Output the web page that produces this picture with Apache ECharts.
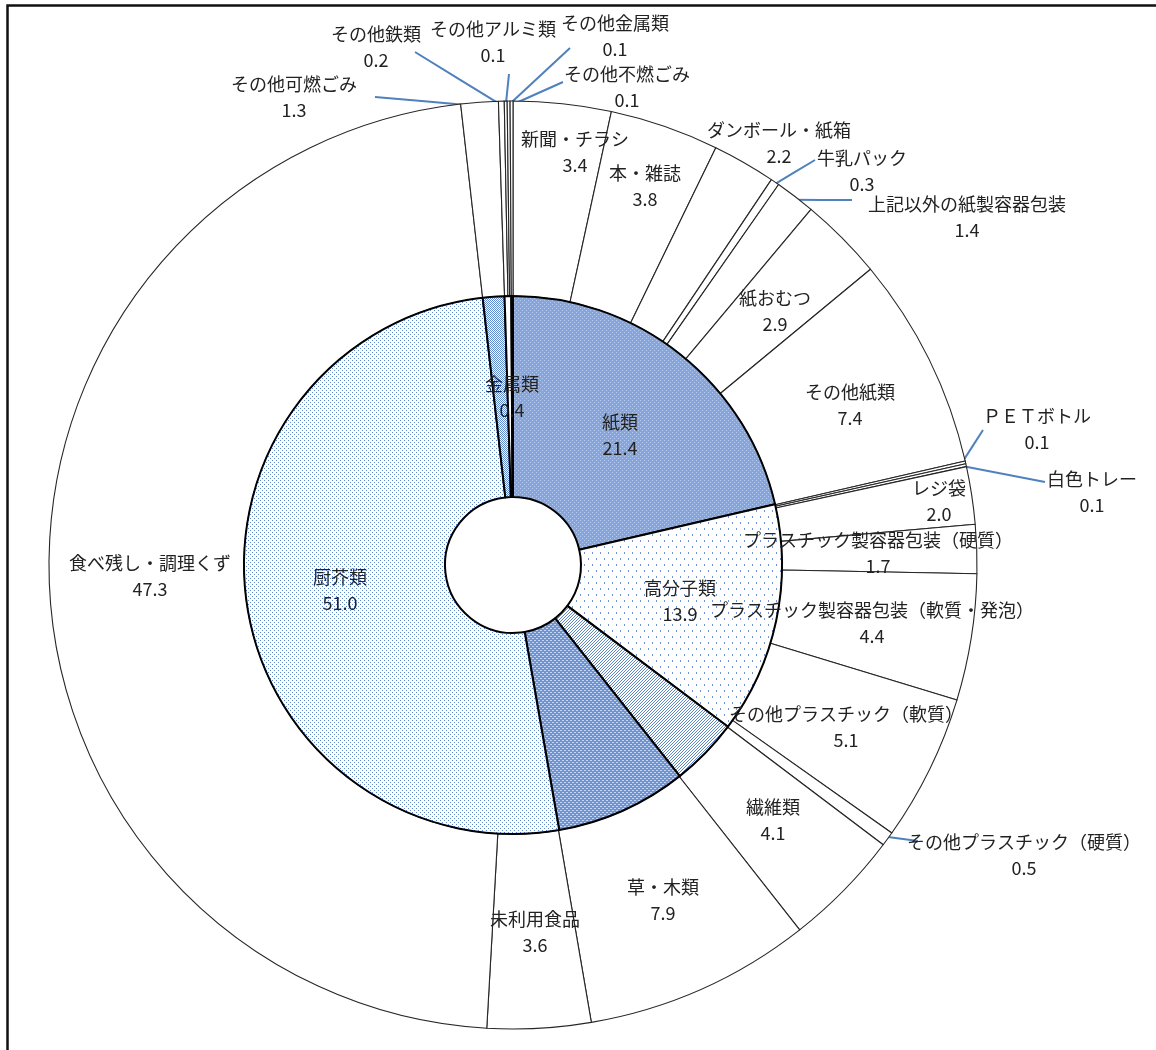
<!DOCTYPE html>
<html>
<head>
<meta charset="utf-8">
<script src="https://cdn.jsdelivr.net/npm/echarts@6/dist/echarts.min.js"></script>
<style>
  html, body { margin: 0; padding: 0; background: #fff; overflow: hidden; }
  #chart { width: 1156px; height: 1050px; }
</style>
</head>
<body>
<div id="chart"></div>
<script>
// Waste composition (%): major groups on the inner ring, detailed items on the outer ring
const groupNames = ['紙類', '高分子類', '繊維類', '草・木類', '厨芥類', 'その他可燃ごみ', '金属類', 'その他不燃ごみ'];
const groupValues = [21.4, 13.9, 4.1, 7.9, 51.0, 1.3, 0.4, 0.1];

const itemNames = [
  '新聞・チラシ', '本・雑誌', 'ダンボール・紙箱', '牛乳パック', '上記以外の紙製容器包装', '紙おむつ', 'その他紙類',
  'ＰＥＴボトル', '白色トレー', 'レジ袋', 'プラスチック製容器包装（硬質）', 'プラスチック製容器包装（軟質・発泡）',
  'その他プラスチック（軟質）', 'その他プラスチック（硬質）',
  '繊維類', '草・木類', '未利用食品', '食べ残し・調理くず', 'その他可燃ごみ',
  'その他鉄類', 'その他アルミ類', 'その他金属類', 'その他不燃ごみ'
];
const itemValues = [
  3.4, 3.8, 2.2, 0.3, 1.4, 2.9, 7.4,
  0.1, 0.1, 2.0, 1.7, 4.4,
  5.1, 0.5,
  4.1, 7.9, 3.6, 47.3, 1.3,
  0.2, 0.1, 0.1, 0.1
];

// Groups that carry a label on the inner ring
const labeledGroups = ['紙類', '高分子類', '厨芥類', '金属類'];

// ---- layout ----
const CX = 513, CY = 565;
const HOLE = 68, MID = 269, OUTER = 464;

// Label centres, relative to the pie centre
const outerSpots = {
  '新聞・チラシ': [62, -413], '本・雑誌': [132, -379], 'ダンボール・紙箱': [266, -422],
  '牛乳パック': [349, -394], '上記以外の紙製容器包装': [454, -348], '紙おむつ': [262, -254],
  'その他紙類': [337, -160], 'ＰＥＴボトル': [524, -136], '白色トレー': [579, -73],
  'レジ袋': [426, -64], 'プラスチック製容器包装（硬質）': [365, -12],
  'プラスチック製容器包装（軟質・発泡）': [359, 58], 'その他プラスチック（軟質）': [333, 162],
  'その他プラスチック（硬質）': [511, 290], '繊維類': [260, 255], '草・木類': [150, 335],
  '未利用食品': [22, 367], '食べ残し・調理くず': [-363, 11], 'その他可燃ごみ': [-219, -468],
  'その他鉄類': [-137, -518], 'その他アルミ類': [-20, -523], 'その他金属類': [102, -529],
  'その他不燃ごみ': [114, -478]
};
const innerSpots = {
  '紙類': [107, -130], '高分子類': [167, 36], '厨芥類': [-173, 25], '金属類': [-1, -168]
};
// Where leader lines end, relative to the pie centre
const leaderEnds = {
  '牛乳パック': [302, -405], '上記以外の紙製容器包装': [339, -365], 'ＰＥＴボトル': [470, -135],
  '白色トレー': [532, -83], 'その他プラスチック（硬質）': [405, 276], 'その他可燃ごみ': [-138, -468],
  'その他鉄類': [-98, -513], 'その他アルミ類': [-4, -491], 'その他金属類': [57, -517],
  'その他不燃ごみ': [50, -483]
};

// ---- fill patterns (small pixel tiles) ----
function pattern(w, h, bg, fg, cells) {
  const c = document.createElement('canvas');
  c.width = w; c.height = h;
  const g = c.getContext('2d');
  g.fillStyle = bg; g.fillRect(0, 0, w, h);
  g.fillStyle = fg;
  cells.forEach(r => g.fillRect(r[0], r[1], r[2] || 1, r[3] || 1));
  return { image: c, repeat: 'repeat' };
}
const groupFills = {
  '紙類': pattern(4, 4, '#84a5dd', '#b9cbec', [[0, 0], [2, 2]]),
  '高分子類': pattern(8, 12, '#ffffff', '#6c95d6', [[0, 0, 1, 2], [4, 6, 1, 2]]),
  '繊維類': pattern(6, 6, '#ffffff', '#5b87cc', [[2, 0], [1, 1], [0, 2], [5, 0], [4, 1], [3, 2], [2, 3], [1, 4], [0, 5], [5, 3], [4, 4], [3, 5]]),
  '草・木類': pattern(4, 4, '#6f94d4', '#c6d5f0', [[2, 0], [3, 0], [0, 2], [1, 2]]),
  '厨芥類': pattern(4, 4, '#ffffff', '#5b87cc', [[0, 0], [2, 2]]),
  'その他可燃ごみ': pattern(4, 4, '#ffffff', '#5f8ad0', [[0, 0], [1, 1], [2, 0], [3, 1], [0, 2], [1, 3], [2, 2], [3, 3]]),
  '金属類': '#ffffff',
  'その他不燃ごみ': '#ffffff'
};

// Point on a ring at the middle of slice i (clockwise from 12 o'clock)
function midPoint(values, i, r) {
  const total = values.reduce((a, b) => a + b, 0);
  let acc = 0;
  for (let k = 0; k < i; k++) acc += values[k];
  const a = (acc + values[i] / 2) / total * Math.PI * 2;
  return [CX + r * Math.sin(a), CY - r * Math.cos(a)];
}

function layoutLabel(params) {
  const inner = params.seriesIndex === 1;
  const name = inner ? groupNames[params.dataIndex] : itemNames[params.dataIndex];
  const spot = (inner ? innerSpots : outerSpots)[name];
  if (!spot) return {};
  const res = { x: CX + spot[0], y: CY + spot[1], align: 'center', verticalAlign: 'middle' };
  const end = leaderEnds[name];
  if (!inner && end) {
    const start = midPoint(itemValues, params.dataIndex, OUTER - 4);
    const stop = [CX + end[0], CY + end[1]];
    res.labelLinePoints = [start, [(start[0] + stop[0]) / 2, (start[1] + stop[1]) / 2], stop];
  }
  return res;
}

const textStyle = {
  fontFamily: 'Noto Sans CJK JP',
  fontSize: 18,
  color: '#222222',
  textBorderWidth: 0,
  lineHeight: 26,
  formatter: p => p.name + '\n' + p.value.toFixed(1)
};

const outerData = itemNames.map((n, i) => {
  const lead = !!leaderEnds[n];
  return {
    name: n,
    value: itemValues[i],
    label: { position: lead ? 'outside' : 'inside' },
    labelLine: { show: lead }
  };
});

const innerData = groupNames.map((n, i) => ({
  name: n,
  value: groupValues[i],
  itemStyle: { color: groupFills[n] },
  label: { show: labeledGroups.includes(n), position: 'inside', color: '#222222', textBorderWidth: 0 },
  labelLine: { show: false }
}));

const chart = echarts.init(document.getElementById('chart'), null, { renderer: 'canvas' });
chart.setOption({
  animation: false,
  backgroundColor: '#ffffff',
  graphic: [{
    type: 'rect',
    shape: { x: 7.5, y: 5.5, width: 1400, height: 1400 },
    style: { fill: 'none', stroke: '#111', lineWidth: 2.5 },
    silent: true
  }],
  series: [
    {
      type: 'pie',
      center: [CX, CY],
      radius: [MID, OUTER],
      startAngle: 90,
      clockwise: true,
      minAngle: 0,
      avoidLabelOverlap: false,
      silent: true,
      emphasis: { disabled: true },
      itemStyle: { color: '#ffffff', borderColor: '#262626', borderWidth: 1.1 },
      label: textStyle,
      labelLine: { lineStyle: { color: '#4f81bd', width: 2 }, length: 10, length2: 10 },
      labelLayout: layoutLabel,
      data: outerData
    },
    {
      type: 'pie',
      center: [CX, CY],
      radius: [HOLE, MID],
      startAngle: 90,
      clockwise: true,
      minAngle: 0,
      avoidLabelOverlap: false,
      silent: true,
      emphasis: { disabled: true },
      itemStyle: { borderColor: '#000000', borderWidth: 2 },
      label: textStyle,
      labelLine: { show: false },
      labelLayout: layoutLabel,
      data: innerData
    }
  ]
});
</script>
</body>
</html>
